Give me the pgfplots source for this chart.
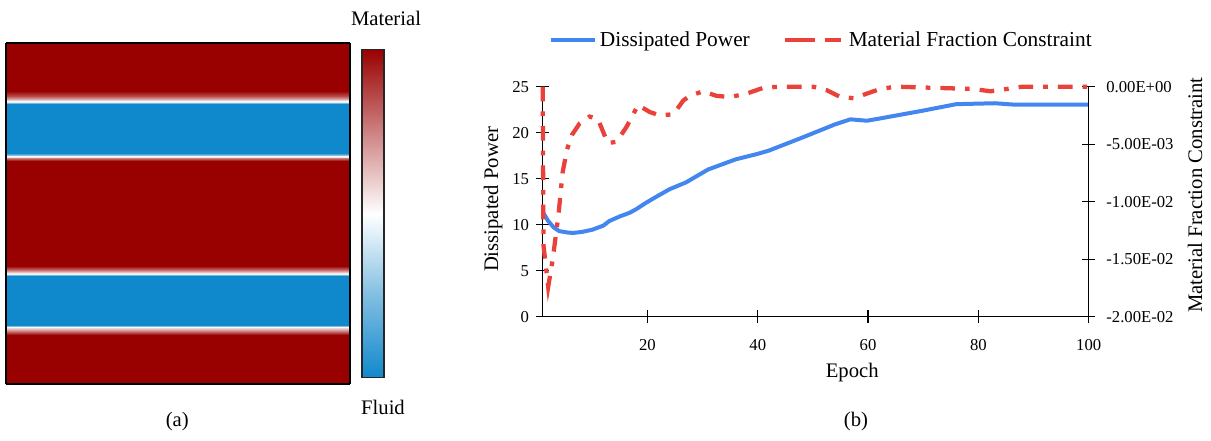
\documentclass[border=0pt]{standalone}
\usepackage{fontspec}
\setmainfont{Liberation Serif}
\usepackage{pgfplots}
\pgfplotsset{compat=1.18}
\definecolor{PowerBlue}{HTML}{4386F0}
\definecolor{FracRed}{HTML}{E8423A}
\newcommand{\lbl}{\fontsize{15.5}{18}\selectfont}
\newcommand{\lgd}{\fontsize{16}{18}\selectfont}
\newcommand{\tck}{\fontsize{12.5}{15}\selectfont}
\pgfplotsset{
  fieldmap/.style={colormap={fieldmap}{rgb255=(16,136,204) rgb255=(128,190,225)
    rgb255=(255,255,255) rgb255=(205,128,128) rgb255=(153,0,0)},
    point meta min=0, point meta max=1},
  bluelegend/.style={legend image code/.code={\draw[#1] (0pt,0pt) -- (28.5pt,0pt);
    \path (0pt,0pt) -- (33.5pt,0pt);}},
  redlegend/.style={legend image code/.code={\draw[#1, solid] (0pt,0pt) -- (21pt,0pt);
    \draw[#1, solid] (36pt,0pt) -- (41.5pt,0pt);
    \path (0pt,0pt) -- (44pt,0pt);}},
}

\begin{document}
\begin{tikzpicture}
\useasboundingbox (0pt,0pt) rectangle (908.25pt,-330pt);

% (a) density field
\begin{axis}[
  at={(4.5pt,-288pt)}, anchor=south west,
  scale only axis, width=258pt, height=255.75pt,
  xmin=0, xmax=1, ymin=0, ymax=1,
  view={0}{90}, enlargelimits=false,
  xtick=\empty, ytick=\empty,
  axis on top,
  axis line style={line width=1.5pt, black},
  fieldmap,
]
\addplot3[surf, shader=interp, mesh/cols=2, point meta=explicit] table[meta=c] {
x y z c
0 0.000 0 1
1 0.000 0 1
0 0.143 0 1
1 0.143 0 1
0 0.155 0 0.75
1 0.155 0 0.75
0 0.163 0 0.58
1 0.163 0 0.58
0 0.167 0 0.48
1 0.167 0 0.48
0 0.170 0 0.25
1 0.170 0 0.25
0 0.173 0 0
1 0.173 0 0
0 0.317 0 0
1 0.317 0 0
0 0.320 0 0.22
1 0.320 0 0.22
0 0.323 0 0.47
1 0.323 0 0.47
0 0.326 0 0.55
1 0.326 0 0.55
0 0.335 0 0.78
1 0.335 0 0.78
0 0.345 0 1
1 0.345 0 1
0 0.655 0 1
1 0.655 0 1
0 0.662 0 0.75
1 0.662 0 0.75
0 0.667 0 0.55
1 0.667 0 0.55
0 0.670 0 0.48
1 0.670 0 0.48
0 0.673 0 0.25
1 0.673 0 0.25
0 0.677 0 0
1 0.677 0 0
0 0.821 0 0
1 0.821 0 0
0 0.823 0 0.22
1 0.823 0 0.22
0 0.826 0 0.45
1 0.826 0 0.45
0 0.829 0 0.52
1 0.829 0 0.52
0 0.835 0 0.68
1 0.835 0 0.68
0 0.845 0 0.85
1 0.845 0 0.85
0 0.858 0 1
1 0.858 0 1
0 1.000 0 1
1 1.000 0 1
};
\end{axis}

% (a) colour bar
\begin{axis}[
  at={(271.5pt,-283.3pt)}, anchor=south west,
  scale only axis, width=16.5pt, height=246.3pt,
  xmin=0, xmax=1, ymin=0, ymax=1,
  view={0}{90}, enlargelimits=false,
  xtick=\empty, ytick=\empty,
  axis on top,
  axis line style={line width=1pt, black!85},
  fieldmap,
]
\addplot3[surf, shader=interp, mesh/cols=2, point meta=explicit] table[meta=c] {
x y z c
0 0.00 0 0
1 0.00 0 0
0 0.25 0 0.25
1 0.25 0 0.25
0 0.50 0 0.5
1 0.50 0 0.5
0 0.75 0 0.75
1 0.75 0 0.75
0 1.00 0 1
1 1.00 0 1
};
\end{axis}
\node[font=\lbl] at (289.5pt,-13.5pt) {Material};
\node[font=\lbl] at (287.25pt,-305.25pt) {Fluid};
\node[font=\lbl] at (133pt,-316.5pt) {(a)};
\node[font=\lbl] at (642pt,-316.5pt) {(b)};

% (b) training history, left axis
\begin{axis}[
  at={(407pt,-237.5pt)}, anchor=south west,
  scale only axis, width=409.5pt, height=172.5pt,
  xmin=1, xmax=100, ymin=0, ymax=25,
  axis x line*=bottom, axis y line*=left,
  axis line style={line width=0.9pt, black, -},
  xtick={20,40,60,80,100}, ytick={0,5,10,15,20,25},
  tick align=center, major tick length=9.5pt,
  tick style={line width=0.9pt, black},
  ticklabel style={font=\tck},
  /pgf/number format/assume math mode=true,
  xticklabel style={yshift=-9pt},
  yticklabel style={xshift=-2pt},
  xlabel={Epoch}, ylabel={Dissipated Power},
  label style={font=\lbl},
  xlabel style={at={(axis description cs:0.567,-0.245)}, anchor=center},
  ylabel style={at={(axis description cs:-0.0905,0.51)}, anchor=center},
]
\addplot[PowerBlue, line width=3pt, line join=round] coordinates {
  (1,11.4) (2,10.4) (3,9.7) (4,9.3) (5.5,9.15) (6.5,9.1) (8,9.2) (10,9.45)
  (12,9.9) (13.1,10.4) (15,10.9) (16.8,11.3) (18,11.7) (19.8,12.4) (21.5,13.0)
  (24,13.85) (27,14.6) (31,16.0) (36,17.1) (40,17.7) (42,18.05) (48,19.45)
  (54,20.9) (56.8,21.45) (59.8,21.3) (62.2,21.55) (70,22.4) (76,23.1)
  (83,23.2) (86.4,23.05) (100,23.05)
};
\end{axis}

% (b) training history, right axis
\begin{axis}[
  at={(407pt,-237.5pt)}, anchor=south west,
  scale only axis, width=409.5pt, height=172.5pt,
  xmin=1, xmax=100, ymin=-0.02, ymax=0,
  clip=false,
  axis x line=none, axis y line*=right,
  axis line style={line width=0.9pt, black, -},
  ytick={-0.02,-0.015,-0.01,-0.005,0},
  yticklabels={-2.00E-02,-1.50E-02,-1.00E-02,-5.00E-03,0.00E+00},
  scaled y ticks=false,
  tick align=center, major tick length=9.5pt,
  tick style={line width=0.9pt, black},
  ticklabel style={font=\tck},
  yticklabel style={xshift=5pt},
  ylabel={Material Fraction Constraint},
  label style={font=\lbl},
  ylabel style={at={(axis description cs:1.1947,0.529)}, anchor=center},
  legend style={at={(axis description cs:0.5106,1.203)}, anchor=center,
    draw=none, fill=none, legend columns=2, font=\lgd,
    /tikz/every even column/.append style={column sep=23pt}},
]
\addlegendimage{PowerBlue, line width=3pt, bluelegend}
\addlegendentry{Dissipated Power}
\addplot[FracRed, line width=3.2pt, line cap=butt,
  dash pattern=on 11pt off 7.5pt on 3.5pt off 7.5pt, redlegend] coordinates {
  (1,0) (1.15,-0.0138) (2.0,-0.0174) (2.8,-0.0151) (3.9,-0.0110) (4.6,-0.0075)
  (5.4,-0.0055) (6.3,-0.0042) (7.7,-0.0032) (9.5,-0.0026) (11.0,-0.0028)
  (12.8,-0.0049) (14.4,-0.0048) (16.2,-0.0035) (18.3,-0.0016) (20.4,-0.0022)
  (22.2,-0.0025) (24.7,-0.0024) (26.5,-0.0012) (27.7,-0.0008) (30.1,-0.0004)
  (32.5,-0.0008) (35,-0.0009) (38,-0.0006) (41,-0.0001) (44,0) (50,0)
  (52.5,-0.0003) (55,-0.0009) (57.4,-0.0010) (59.8,-0.0006) (62.2,-0.0002)
  (65,0) (79,-0.0002) (82.2,-0.0004) (85.2,-0.0002) (88,0) (100,0)
};
\addlegendentry{Material Fraction Constraint}
\end{axis}
\end{tikzpicture}
\end{document}
